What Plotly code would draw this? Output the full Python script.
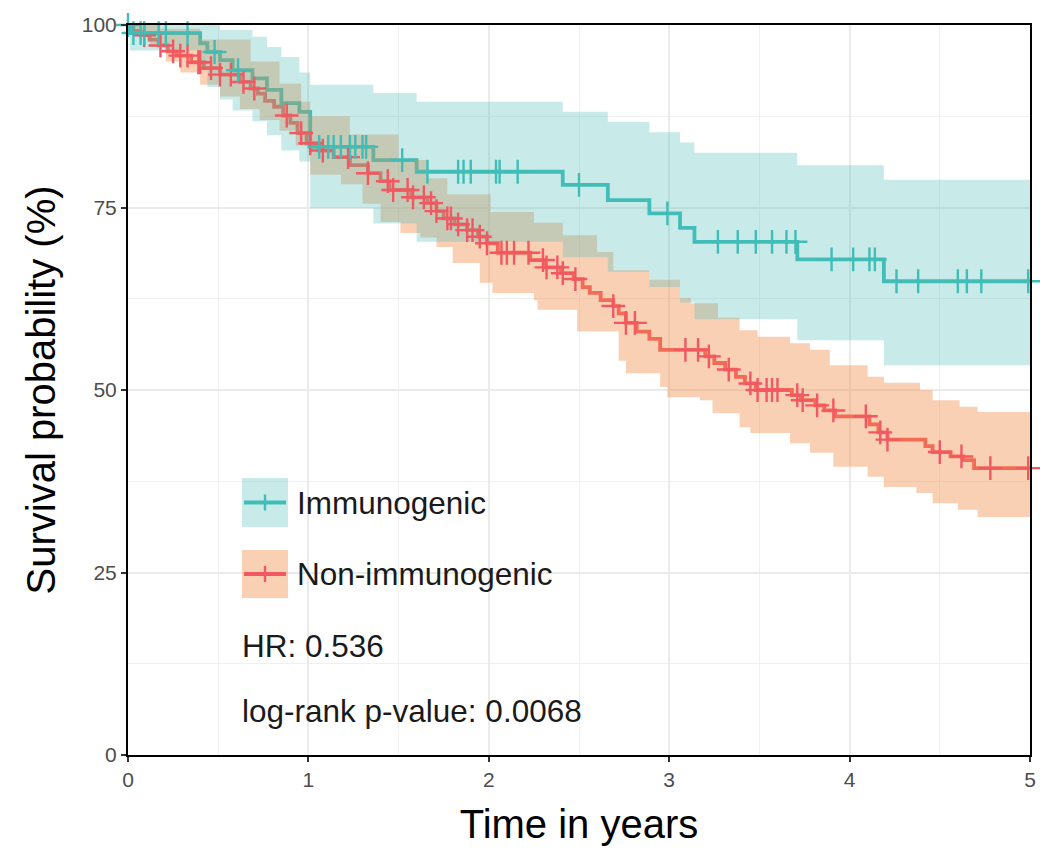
import numpy as np
import plotly.graph_objects as go

# ---------------- data (time in years, survival in %) ----------------
# Immunogenic: step times / survival, CI bounds on the same step times
imm_t = [0, 0.01, 0.40, 0.44, 0.51, 0.58, 0.69, 0.77, 0.85, 0.95, 1.01, 1.36, 1.60,
         2.41, 2.66, 2.89, 3.06, 3.14, 3.71, 4.19]
imm_s = [100, 98.9, 97.5, 96.3, 95.2, 93.8, 92.7, 91.1, 89.3, 88.1, 83.3, 81.5, 79.9,
         78.1, 76.0, 74.2, 72.2, 70.3, 67.9, 64.9]
imm_lo = [100, 96.5, 94.0, 91.5, 89.8, 88.3, 86.8, 84.9, 82.8, 81.3, 74.9, 72.8, 70.3,
          68.2, 66.2, 64.1, 62.0, 59.7, 56.8, 53.4]
imm_up_t = [0, 0.51, 0.69, 0.77, 0.85, 0.95, 1.01, 1.36, 1.60, 2.41, 2.66, 2.89, 3.06,
            3.14, 3.71, 4.19]
imm_up = [100, 99.3, 98.4, 97.0, 95.6, 93.5, 91.8, 90.7, 89.5, 88.1, 86.7, 85.3, 83.9,
          82.5, 80.8, 78.8]
imm_cens = [0.0, 0.03, 0.07, 0.09, 0.17, 0.21, 0.33, 0.48, 0.61, 1.06, 1.11, 1.14, 1.18,
            1.23, 1.26, 1.30, 1.32, 1.52, 1.66, 1.83, 1.86, 1.90, 2.04, 2.06, 2.16, 2.50,
            2.99, 3.27, 3.38, 3.48, 3.57, 3.65, 3.70, 3.90, 4.02, 4.11, 4.14, 4.26, 4.38,
            4.60, 4.65, 4.73, 4.99]

# Non-immunogenic
non_t = [0, 0.03, 0.07, 0.12, 0.17, 0.22, 0.27, 0.35, 0.42, 0.51, 0.62, 0.68, 0.72,
         0.76, 0.81, 0.86, 0.90, 0.94, 0.99, 1.06, 1.14, 1.23, 1.33, 1.40, 1.45, 1.57,
         1.66, 1.71, 1.75, 1.81, 1.88, 1.94, 1.99, 2.05, 2.23, 2.31, 2.40, 2.47, 2.52,
         2.56, 2.62, 2.69, 2.72, 2.76, 2.82, 2.89, 2.95, 3.20, 3.25, 3.31, 3.37, 3.42,
         3.48, 3.68, 3.73, 3.81, 3.86, 3.92, 4.11, 4.16, 4.21, 4.42, 4.46, 4.56, 4.63,
         4.69]
non_s = [100, 99.2, 98.6, 98.0, 97.2, 96.4, 95.8, 94.9, 94.1, 93.2, 92.2, 91.3, 90.6,
         89.6, 88.8, 87.6, 86.6, 85.2, 83.8, 82.8, 81.9, 80.8, 79.7, 78.6, 77.4, 76.4,
         75.6, 74.5, 73.5, 72.7, 71.9, 71.0, 70.1, 68.8, 67.8, 66.8, 66.0, 65.2, 64.1,
         63.3, 62.3, 61.5, 60.5, 59.2, 58.0, 57.0, 55.5, 54.6, 53.7, 52.8, 51.8, 50.9,
         50.0, 49.3, 48.6, 47.9, 47.2, 46.4, 45.3, 44.2, 43.2, 42.3, 41.5, 40.9, 40.4,
         39.3]
non_up_t = [0, 0.18, 0.40, 0.68, 0.84, 0.96, 1.01, 1.23, 1.50, 1.66, 1.77, 2.01, 2.25,
            2.41, 2.60, 2.69, 2.89, 3.06, 3.12, 3.27, 3.39, 3.49, 3.67, 3.78, 3.89, 4.10,
            4.19, 4.39, 4.46, 4.61, 4.71]
non_up = [100, 99.5, 98.0, 95.0, 92.0, 89.5, 87.5, 85.0, 81.5, 79.0, 76.8, 74.4, 72.9,
          71.2, 68.9, 66.4, 65.1, 62.6, 61.9, 59.9, 58.2, 57.3, 56.4, 55.5, 53.4, 51.8,
          51.0, 50.0, 48.6, 47.7, 47.0]
non_lo_t = [0, 0.04, 0.12, 0.21, 0.29, 0.40, 0.51, 0.62, 0.73, 0.84, 0.93, 1.01, 1.18,
            1.30, 1.40, 1.51, 1.62, 1.71, 1.80, 1.95, 2.02, 2.25, 2.27, 2.49, 2.72, 2.76,
            2.95, 2.99, 3.17, 3.24, 3.39, 3.45, 3.67, 3.78, 3.91, 4.10, 4.19, 4.37, 4.46,
            4.60, 4.71]
non_lo = [100, 98.5, 97.0, 95.0, 93.5, 91.8, 90.2, 88.5, 87.0, 85.5, 83.5, 79.5, 78.2,
          75.5, 73.0, 71.5, 70.9, 69.6, 67.4, 64.7, 63.3, 62.3, 61.0, 58.0, 54.0, 52.3,
          50.4, 49.0, 48.6, 46.8, 44.9, 44.1, 42.7, 41.4, 39.5, 38.1, 36.7, 35.9, 34.5,
          33.6, 32.6]
non_cens = [0.09, 0.18, 0.25, 0.29, 0.33, 0.39, 0.40, 0.46, 0.51, 0.57, 0.64, 0.70, 0.88,
            0.96, 1.01, 1.08, 1.22, 1.33, 1.44, 1.47, 1.55, 1.58, 1.64, 1.68, 1.71, 1.77,
            1.79, 1.83, 1.88, 1.91, 1.95, 1.99, 2.07, 2.10, 2.14, 2.22, 2.30, 2.32, 2.38,
            2.41, 2.48, 2.69, 2.76, 2.81, 3.09, 3.16, 3.22, 3.33, 3.45, 3.49, 3.54, 3.57,
            3.60, 3.71, 3.74, 3.82, 3.91, 4.09, 4.17, 4.21, 4.50, 4.62, 4.78, 4.99]

T_END = 5
groups = ["Immunogenic", "Non-immunogenic"]
hr_text = "HR: 0.536"
p_text = "log-rank p-value: 0.0068"

# ---------------- styles ----------------
TEAL = "#40BDB6"
RED = "#F25862"
TEAL_FILL = "rgba(72,188,185,0.30)"
PEACH_FILL = "rgba(243,138,68,0.40)"
FONT = "Liberation Sans, Arial, Helvetica, sans-serif"


def step_xy(t, s, t_end=T_END):
    xs, ys = [], []
    for i in range(len(t)):
        if i > 0:
            xs.append(t[i]); ys.append(s[i - 1])
        xs.append(t[i]); ys.append(s[i])
    xs.append(t_end); ys.append(s[-1])
    return xs, ys


def band(t_up, up, t_lo, lo):
    ux, uy = step_xy(t_up, up)
    lx, ly = step_xy(t_lo, lo)
    return ux + lx[::-1], uy + ly[::-1]


def s_at(t, s, tc):
    idx = np.searchsorted(np.array(t), np.array(tc), side="right") - 1
    return [s[i] for i in idx]


fig = go.Figure()

# survival lines (drawn first, ribbons go over them as in ggsurvplot)
for t, s, col in [(non_t, non_s, RED), (imm_t, imm_s, TEAL)]:
    fig.add_trace(go.Scatter(x=list(t) + [T_END], y=list(s) + [s[-1]], mode="lines",
                             line=dict(color=col, width=3.8, shape="hv"),
                             showlegend=False, hoverinfo="skip"))

# confidence bands
bx, by = band(non_up_t, non_up, non_lo_t, non_lo)
fig.add_trace(go.Scatter(x=bx, y=by, mode="lines", fill="toself", fillcolor=PEACH_FILL,
                         line=dict(width=0), showlegend=False, hoverinfo="skip"))
bx, by = band(imm_up_t, imm_up, imm_t, imm_lo)
fig.add_trace(go.Scatter(x=bx, y=by, mode="lines", fill="toself", fillcolor=TEAL_FILL,
                         line=dict(width=0), showlegend=False, hoverinfo="skip"))

# censor marks
for t, s, tc, col in [(non_t, non_s, non_cens, RED), (imm_t, imm_s, imm_cens, TEAL)]:
    fig.add_trace(go.Scatter(x=tc, y=s_at(t, s, tc), mode="markers",
                             marker=dict(symbol="cross-thin", size=17,
                                         line=dict(color=col, width=2.4)),
                             cliponaxis=False, showlegend=False, hoverinfo="skip"))

# ---------------- legend (drawn inside the panel) ----------------
plot_l, plot_r, plot_t, plot_b = 128, 1030, 25, 755


def px(x):
    return (x - plot_l) / (plot_r - plot_l)


def py(y):
    return (plot_b - y) / (plot_b - plot_t)


shapes = []
annotations = []
for (y0, y1), name, fill, col in [((478, 527), groups[0], TEAL_FILL, TEAL),
                                  ((550, 598), groups[1], PEACH_FILL, RED)]:
    shapes.append(dict(type="rect", xref="paper", yref="paper", x0=px(242), x1=px(288),
                       y0=py(y1), y1=py(y0), fillcolor=fill, line=dict(width=0), layer="above"))
    yc = (y0 + y1) / 2
    shapes.append(dict(type="line", xref="paper", yref="paper", x0=px(244), x1=px(286),
                       y0=py(yc), y1=py(yc), line=dict(color=col, width=3.8), layer="above"))
    shapes.append(dict(type="line", xref="paper", yref="paper", x0=px(265), x1=px(265),
                       y0=py(yc - 8), y1=py(yc + 8), line=dict(color=col, width=2.4),
                       layer="above"))
    annotations.append(dict(xref="paper", yref="paper", x=px(295), y=py(yc), text=name,
                            showarrow=False, xanchor="left", yanchor="middle",
                            font=dict(size=31.5, color="#1A1A1A", family=FONT)))

annotations.append(dict(xref="paper", yref="paper", x=px(240), y=py(646), text=hr_text,
                        showarrow=False, xanchor="left", yanchor="middle",
                        font=dict(size=31.5, color="#1A1A1A", family=FONT)))
annotations.append(dict(xref="paper", yref="paper", x=px(240), y=py(711), text=p_text,
                        showarrow=False, xanchor="left", yanchor="middle",
                        font=dict(size=31.5, color="#1A1A1A", family=FONT)))

axis_common = dict(showline=True, linecolor="black", linewidth=2, mirror=True,
                   ticks="outside", ticklen=5, tickwidth=1.5, tickcolor="#333333",
                   tickfont=dict(size=21, color="#4D4D4D", family=FONT),
                   showgrid=True, gridcolor="#EBEBEB", gridwidth=1.5, zeroline=False,
                   automargin=False)

fig.update_layout(
    width=1040, height=850,
    margin=dict(l=plot_l, r=1040 - plot_r, t=plot_t, b=850 - plot_b),
    plot_bgcolor="white", paper_bgcolor="white",
    font=dict(family=FONT),
    shapes=shapes, annotations=annotations,
    xaxis=dict(range=[0, 5], tickvals=[0, 1, 2, 3, 4, 5],
               minor=dict(dtick=0.5, showgrid=True, gridcolor="#F0F0F0", gridwidth=1),
               title=dict(text="Time in years", font=dict(size=40, color="black", family=FONT),
                          standoff=20),
               **axis_common),
    yaxis=dict(range=[0, 100], tickvals=[0, 25, 50, 75, 100],
               minor=dict(dtick=12.5, showgrid=True, gridcolor="#F0F0F0", gridwidth=1),
               title=dict(text="Survival probability (%)",
                          font=dict(size=40, color="black", family=FONT), standoff=14),
               **axis_common),
)

fig.write_html("out.html")
